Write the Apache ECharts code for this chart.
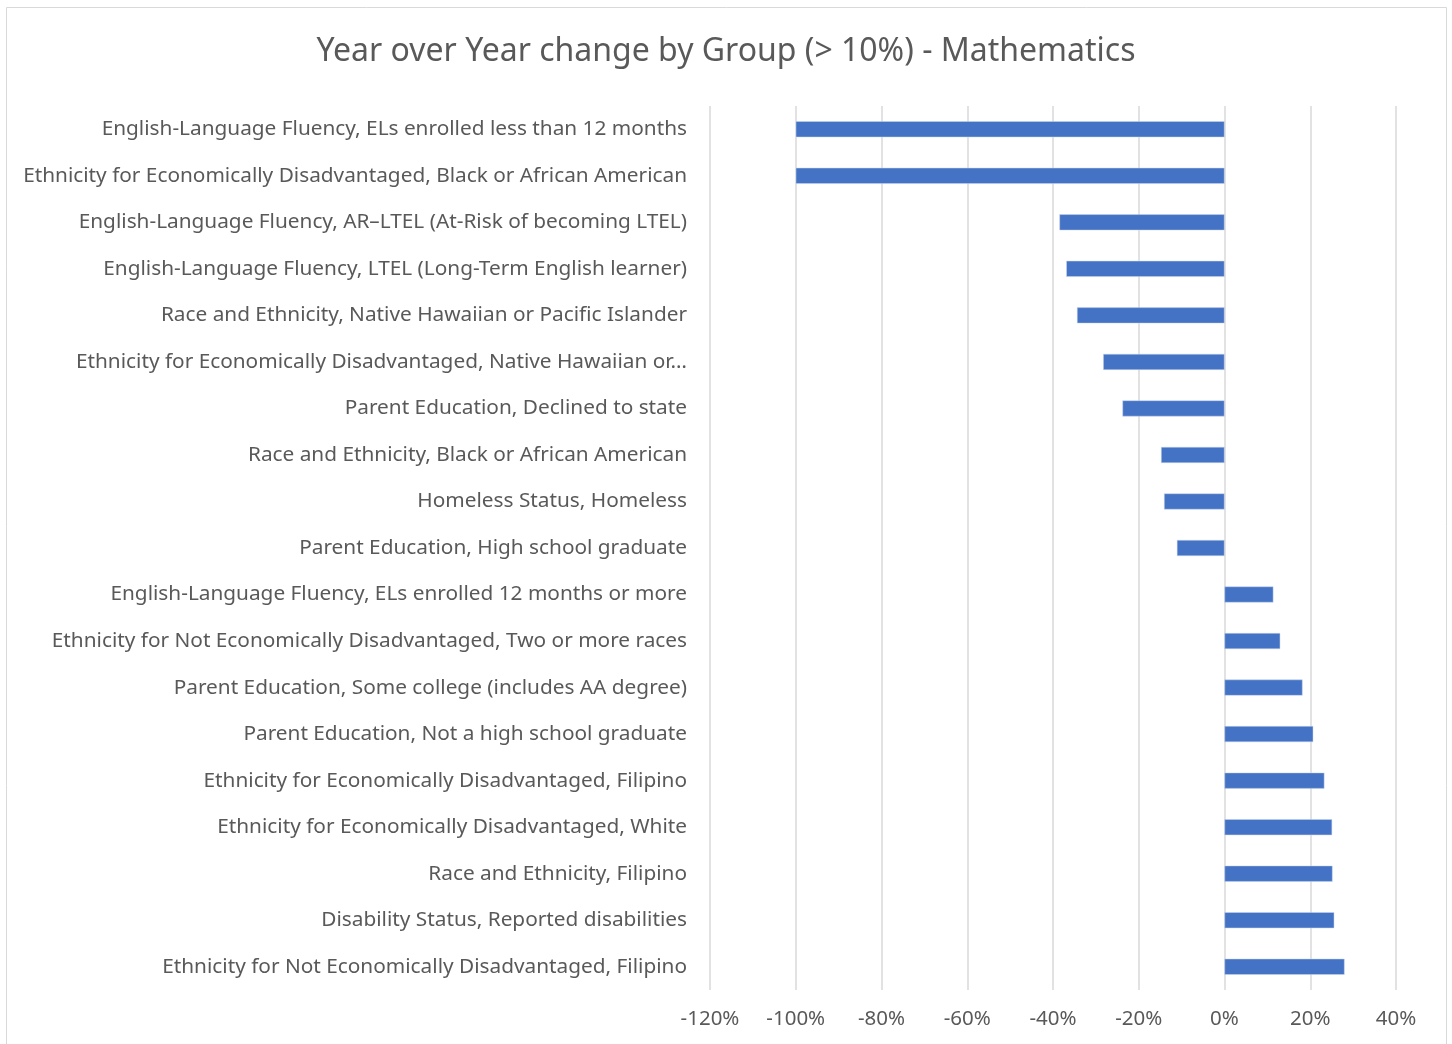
<!DOCTYPE html>
<html>
<head>
<meta charset="utf-8">
<script src="https://cdn.jsdelivr.net/npm/echarts@6/dist/echarts.min.js"></script>
<style>
  html, body { margin: 0; padding: 0; background: #fff; }
  #chart { width: 1452px; height: 1044px; }
</style>
</head>
<body>
<div id="chart"></div>
<script>
// groups, top to bottom
const groups = [
  'English-Language Fluency, ELs enrolled less than 12 months',
  'Ethnicity for Economically Disadvantaged, Black or African American',
  'English-Language Fluency, AR\u2013LTEL (At-Risk of becoming LTEL)',
  'English-Language Fluency, LTEL (Long-Term English learner)',
  'Race and Ethnicity, Native Hawaiian or Pacific Islander',
  'Ethnicity for Economically Disadvantaged, Native Hawaiian or\u2026',
  'Parent Education, Declined to state',
  'Race and Ethnicity, Black or African American',
  'Homeless Status, Homeless',
  'Parent Education, High school graduate',
  'English-Language Fluency, ELs enrolled 12 months or more',
  'Ethnicity for Not Economically Disadvantaged, Two or more races',
  'Parent Education, Some college (includes AA degree)',
  'Parent Education, Not a high school graduate',
  'Ethnicity for Economically Disadvantaged, Filipino',
  'Ethnicity for Economically Disadvantaged, White',
  'Race and Ethnicity, Filipino',
  'Disability Status, Reported disabilities',
  'Ethnicity for Not Economically Disadvantaged, Filipino'
];

// year over year change, in percent
const changePct = [
  -100, -100, -38.5, -36.9, -34.4, -28.3, -23.8, -14.8, -14.1, -11.1,
  11.4, 13.0, 18.2, 20.7, 23.3, 25.1, 25.2, 25.6, 28.0
];

const axisMin = -120;
const axisMax = 40;
const axisStep = 20;

const textColor = '#595959';
const font = '"Noto Sans", "Open Sans", sans-serif';

const chart = echarts.init(document.getElementById('chart'));

chart.setOption({
  animation: false,
  backgroundColor: '#fff',
  title: {
    text: 'Year over Year change by Group (> 10%) - Mathematics',
    left: 'center',
    top: 31,
    textStyle: {
      color: textColor,
      fontFamily: font,
      fontSize: 32,
      fontWeight: 'normal'
    }
  },
  graphic: [{
    type: 'rect',
    shape: { x: 6.5, y: 7.5, width: 1440, height: 1100 },
    style: { fill: 'none', stroke: '#d9d9d9', lineWidth: 1 },
    silent: true
  }],
  grid: {
    left: 710,
    right: 56,
    top: 106,
    bottom: 54
  },
  xAxis: {
    type: 'value',
    min: axisMin,
    max: axisMax,
    interval: axisStep,
    axisLine: { show: false },
    axisTick: { show: false },
    splitLine: { lineStyle: { color: '#d9d9d9', width: 1.5 } },
    axisLabel: {
      color: textColor,
      fontFamily: font,
      fontSize: 20.5,
      margin: 19,
      formatter: v => v + '%'
    }
  },
  yAxis: {
    type: 'category',
    inverse: true,
    data: groups,
    axisLine: { show: false },
    axisTick: { show: false },
    axisLabel: {
      color: textColor,
      fontFamily: font,
      fontSize: 20.8,
      margin: 23
    }
  },
  series: [{
    type: 'bar',
    data: changePct,
    barWidth: 16,
    itemStyle: {
      color: '#4472c4',
      borderColor: '#c9d6ee',
      borderWidth: 0.5
    }
  }]
});
</script>
</body>
</html>
